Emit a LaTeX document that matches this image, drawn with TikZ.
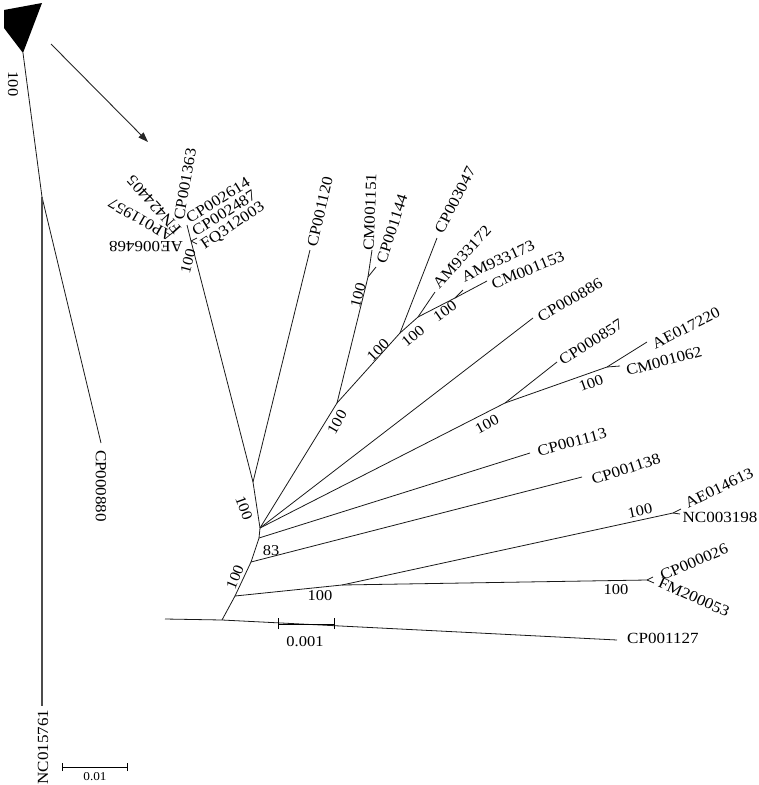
\documentclass[tikz,border=0pt]{standalone}
\usepackage{fontspec}
\setmainfont{Liberation Serif}[FakeStretch=1.1]
\usetikzlibrary{arrows.meta}
\begin{document}
\begin{tikzpicture}[x=1pt,y=-1pt,
  br/.style={line width=0.8pt, black!90},
  lab/.style={font=\fontsize{15.5}{15.5}\selectfont, inner sep=0pt},
  bs/.style={font=\fontsize{15}{15}\selectfont, inner sep=0pt},
  sc/.style={line width=0.8pt, black}]
\useasboundingbox (0,0) rectangle (759,785);
% ---------- left tree ----------
\coordinate (t1) at (4,10);
\coordinate (t2) at (4,28);
\coordinate (tip) at (23,53);
\coordinate (t3) at (42,3);
\fill[black] (t1) -- (t2) -- (tip) -- (t3) -- cycle;
\coordinate (lnode) at (42,197);
\coordinate (c880) at (101,443);
\coordinate (cnc) at (42,706);
\draw[br] (tip) -- (lnode) -- (c880);
\draw[line width=1.4pt, black!70] (lnode) -- (cnc);
\node[bs, rotate=-90] (b0) at (13,84) {100};
\node[lab, rotate=-90] (l880) at (101,486) {CP000880};
\node[lab, rotate=90] (l761) at (43,747) {NC015761};
% left scale bar
\coordinate (sL) at (62,767);
\coordinate (sR) at (127,767);
\draw[sc] (sL) -- (sR);
\draw[sc] ([yshift=-4pt]sL) -- ([yshift=4pt]sL);
\draw[sc] ([yshift=-4pt]sR) -- ([yshift=4pt]sR);
\node[inner sep=0pt, font=\fontsize{12}{12}\selectfont] (s01) at (95,777) {0.01};
% arrow
\coordinate (a1) at (51,44);
\coordinate (a2) at (148,142);
\draw[-{Triangle[length=10pt,width=7pt]}, line width=0.9pt, black!85] (a1) -- (a2);
% ---------- right tree ----------
\coordinate (R0) at (165,619);
\coordinate (R1) at (222,620);
\coordinate (c1127) at (617,640);
\coordinate (A) at (235,596);
\coordinate (B) at (342,585);
\coordinate (fmn) at (647,580);
\coordinate (c026) at (653,577);
\coordinate (c053) at (654,583);
\coordinate (ncn) at (673,513);
\coordinate (c613) at (681,509);
\coordinate (c198) at (680,514);
\coordinate (C) at (251,562);
\coordinate (c1138) at (582,477);
\coordinate (D) at (259,538);
\coordinate (c1113) at (530,453);
\coordinate (E) at (260,528);
\coordinate (F) at (253,482);
\coordinate (c1120) at (310,250);
\coordinate (G) at (191,241);
\coordinate (Gt) at (187,225);
\coordinate (g1) at (197,238);
\coordinate (g2) at (197,244);
\coordinate (H) at (337,403);
\coordinate (I) at (368,277);
\coordinate (c1151) at (372,250);
\coordinate (c1144) at (376,267);
\coordinate (J) at (400,333);
\coordinate (c3047) at (437,238);
\coordinate (K) at (418,317);
\coordinate (c172) at (435,292);
\coordinate (L) at (455,298);
\coordinate (c173) at (463,290);
\coordinate (c1153) at (487,281);
\coordinate (c886) at (533,318);
\coordinate (M) at (505,403);
\coordinate (c857) at (557,362);
\coordinate (N) at (607,367);
\coordinate (c7220) at (647,342);
\coordinate (c1062) at (620,366);
\draw[br] (R0) -- (R1) -- (c1127);
\draw[br] (R1) -- (A) -- (B) -- (fmn);
\draw[br] (fmn) -- (c026);
\draw[br] (fmn) -- (c053);
\draw[br] (B) -- (ncn) -- (c613);
\draw[br] (ncn) -- (c198);
\draw[br] (A) -- (C) -- (c1138);
\draw[br] (C) -- (D) -- (c1113);
\draw[br] (D) -- (E) -- (F) -- (c1120);
\draw[br] (F) -- (G) -- (Gt);
\draw[br] (G) -- (g1);
\draw[br] (G) -- (g2);
\draw[br] (E) -- (H) -- (I) -- (c1151);
\draw[br] (I) -- (c1144);
\draw[br] (H) -- (J) -- (c3047);
\draw[br] (J) -- (K) -- (c172);
\draw[br] (K) -- (L) -- (c1153);
\draw[br] (L) -- (c173);
\draw[br] (E) -- (c886);
\draw[br] (E) -- (M) -- (c857);
\draw[br] (M) -- (N) -- (c7220);
\draw[br] (N) -- (c1062);
% right scale bar
\coordinate (rsL) at (278,624);
\coordinate (rsR) at (334,624);
\draw[sc] (rsL) -- (rsR);
\draw[sc] ([yshift=-5pt]rsL) -- ([yshift=6pt]rsL);
\draw[sc] ([yshift=-5pt]rsR) -- ([yshift=6pt]rsR);
\node[bs] (s001) at (305,642) {0.001};
% tip labels
\node[lab, rotate=80] (l1363) at (185,184) {CP001363};
\node[lab, rotate=132] (l4405) at (154,205) {FN424405};
\node[lab, rotate=150] (l1957) at (141,220) {AP011957};
\node[lab, rotate=180] (l6468) at (146,247) {AE006468};
\node[lab, rotate=32] (l2614) at (218,200) {CP002614};
\node[lab, rotate=32] (l2487) at (224,213) {CP002487};
\node[lab, rotate=34] (l2003) at (233,226) {FQ312003};
\node[lab, rotate=77] (l1120) at (320,212) {CP001120};
\node[lab, rotate=88] (l1151) at (370,212) {CM001151};
\node[lab, rotate=72] (l1144) at (392,229) {CP001144};
\node[lab, rotate=63] (l3047) at (455,200) {CP003047};
\node[lab, rotate=48] (l172) at (462,257) {AM933172};
\node[lab, rotate=25] (l173) at (498,261) {AM933173};
\node[lab, rotate=22] (l1153) at (528,270) {CM001153};
\node[lab, rotate=30] (l886) at (570,300) {CP000886};
\node[lab, rotate=32] (l857) at (591,342) {CP000857};
\node[lab, rotate=27] (l7220) at (686,328) {AE017220};
\node[lab, rotate=15] (l1062) at (664,361) {CM001062};
\node[lab, rotate=15] (l1113) at (572,442) {CP001113};
\node[lab, rotate=18] (l1138) at (626,469) {CP001138};
\node[lab, rotate=26] (l613) at (719,488) {AE014613};
\node[lab] (l198) at (720,517) {NC003198};
\node[lab, rotate=23] (l026) at (694,562) {CP000026};
\node[lab, rotate=-24] (l053) at (694,597) {FM200053};
\node[lab, anchor=west] (l1127) at (627,638) {CP001127};
% bootstrap values
\node[bs, rotate=75] (bG) at (188,261) {100};
\node[bs, rotate=75] (bI) at (358,295) {100};
\node[bs, rotate=45] (bJ) at (378,350) {100};
\node[bs, rotate=40] (bK) at (413,336) {100};
\node[bs, rotate=35] (bL) at (445,311) {100};
\node[bs, rotate=60] (bH) at (337,422) {100};
\node[bs, rotate=28] (bM) at (487,424) {100};
\node[bs, rotate=20] (bN) at (591,383) {100};
\node[bs] (bD) at (271,551) {83};
\node[bs, rotate=-70] (bF) at (244,508) {100};
\node[bs, rotate=68] (bC) at (235,577) {100};
\node[bs, rotate=12] (bnc) at (640,511) {100};
\node[bs] (bfm) at (616,590) {100};
\node[bs] (bB) at (320,596) {100};
\end{tikzpicture}
\end{document}
